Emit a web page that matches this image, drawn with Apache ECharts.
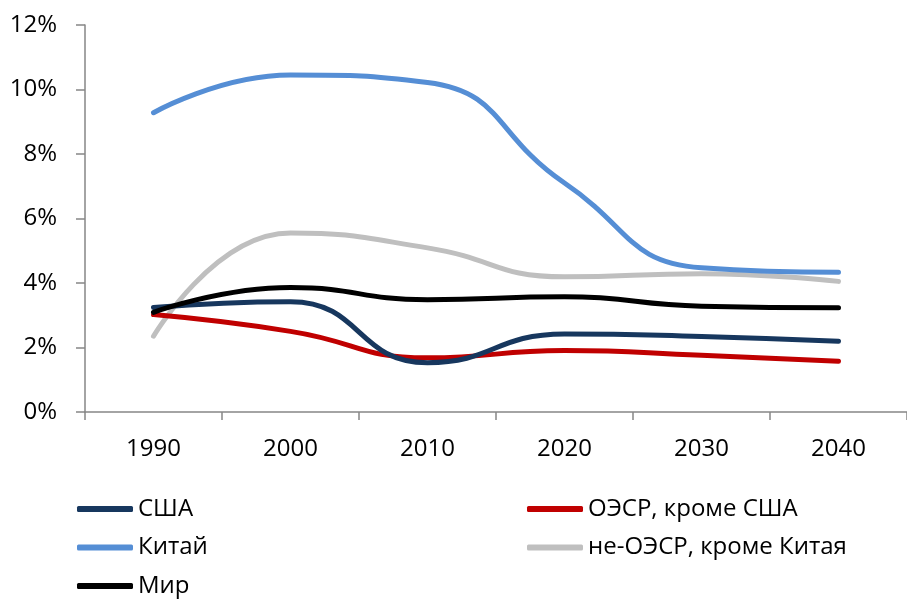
<!DOCTYPE html>
<html>
<head>
<meta charset="utf-8">
<style>
body { margin: 0; background: #fff; }
#chart { width: 907px; height: 599px; }
</style>
<script src="https://cdn.jsdelivr.net/npm/echarts@6/dist/echarts.min.js"></script>
</head>
<body>
<div id="chart"></div>
<script>
// values in %
const years = ["1990", "2000", "2010", "2020", "2030", "2040"];
const usa = [3.24, 3.42, 1.53, 2.42, 2.34, 2.19];
const oecdExUs = [3.02, 2.5, 1.68, 1.91, 1.76, 1.57];
const china = [9.28, 10.45, 10.22, 7.1, 4.47, 4.33];
const nonOecdExCn = [2.35, 5.55, 5.09, 4.19, 4.29, 4.05];
const world = [3.09, 3.86, 3.48, 3.57, 3.28, 3.23];

const FONT = "Open Sans";
const axisGray = "#868686";

function line(name, data, color) {
  return {
    name: name,
    type: "line",
    data: data,
    smooth: 0.5,
    showSymbol: false,
    symbol: "none",
    color: color,
    lineStyle: { width: 5, color: color, cap: "round", join: "round" },
    emphasis: { disabled: true }
  };
}

const legendText = { fontFamily: FONT, fontSize: 24, color: "#000", lineHeight: 24 };

function legendCol(names, left) {
  return {
    data: names,
    orient: "vertical",
    left: left,
    top: 497,
    height: 110,
    padding: 0,
    icon: "roundRect",
    itemWidth: 56,
    itemHeight: 6,
    itemGap: 14.5,
    textStyle: legendText,
    selectedMode: false
  };
}

const chart = echarts.init(document.getElementById("chart"), null, { renderer: "canvas" });
chart.setOption({
  animation: false,
  backgroundColor: "#fff",
  grid: { left: 85, top: 25, width: 828, height: 387, containLabel: false },
  xAxis: {
    type: "category",
    data: years,
    boundaryGap: true,
    axisLine: { lineStyle: { color: axisGray, width: 1.5 } },
    axisTick: { show: true, length: 8, lineStyle: { color: axisGray, width: 1.5 } },
    axisLabel: { fontFamily: FONT, fontSize: 24, color: "#000", margin: 25 },
    splitLine: { show: false }
  },
  yAxis: {
    type: "value",
    min: 0,
    max: 12,
    interval: 2,
    axisLine: { show: true, lineStyle: { color: axisGray, width: 1.5 } },
    axisTick: { show: true, length: 9, lineStyle: { color: axisGray, width: 1.5 } },
    axisLabel: { fontFamily: FONT, fontSize: 24, color: "#000", margin: 28, formatter: "{value}%" },
    splitLine: { show: false }
  },
  legend: [
    legendCol(["США", "Китай", "Мир"], 77),
    legendCol(["ОЭСР, кроме США", "не-ОЭСР, кроме Китая"], 527)
  ],
  series: [
    line("не-ОЭСР, кроме Китая", nonOecdExCn, "#BFBFBF"),
    line("Китай", china, "#558ED5"),
    line("ОЭСР, кроме США", oecdExUs, "#C00000"),
    line("США", usa, "#17375E"),
    line("Мир", world, "#000000")
  ]
});
</script>
</body>
</html>
